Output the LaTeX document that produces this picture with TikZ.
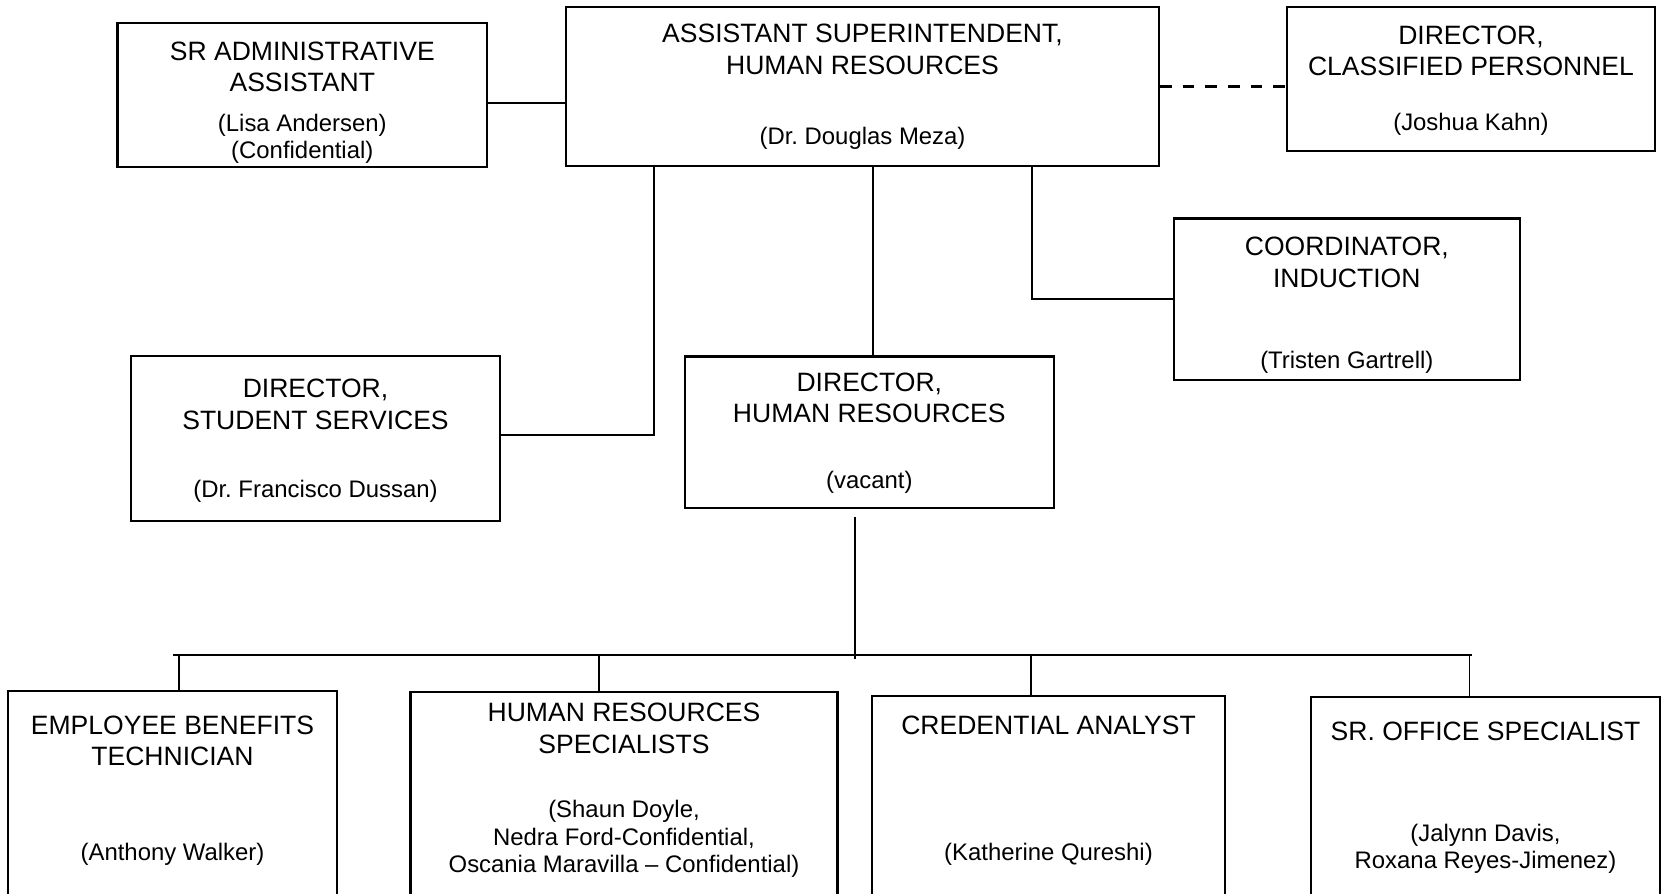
\documentclass[tikz,border=0pt]{standalone}
\usepackage{fontspec}
\setmainfont{Liberation Sans}
\usetikzlibrary{positioning}
\frenchspacing

\begin{document}
\begin{tikzpicture}[
            x=0.2mm, y=-0.2mm,
            box/.style={draw,rectangle,line width=1.2pt,inner sep=0pt},
            roletext/.style={align=center,inner sep=0pt,font=\fontsize{15.1pt}{18pt}\selectfont},
            persontext/.style={align=center,inner sep=0pt,font=\fontsize{13.6pt}{15.6pt}\selectfont},
            link/.style={line width=1pt}
        ]
        \useasboundingbox (0,0) rectangle (1662,893);
        \clip (0,0) rectangle (1662,893);
        % boxes
        \node[box, minimum width=73.9mm, minimum height=28.8mm] (sradmin) at (302.3,95) {};
        \node[box, minimum width=118.6mm, minimum height=31.8mm] (asst) at (862.5,86.5) {};
        \node[box, minimum width=73.6mm, minimum height=28.7mm] (classified) at (1471,79) {};
        \node[box, minimum width=69.1mm, minimum height=32.3mm] (coord) at (1346.8,299.2) {};
        \node[box, minimum width=73.8mm, minimum height=32.9mm] (student) at (315.5,438.3) {};
        \node[box, minimum width=73.7mm, minimum height=30.3mm] (dirhr) at (869.3,432.3) {};
        \node[box, minimum width=65.7mm, minimum height=44.8mm] (ebt) at (172.5,803) {};
        \node[box, minimum width=85.4mm, minimum height=44.7mm] (hrspec) at (624,803.3) {};
        \node[box, minimum width=70.6mm, minimum height=43.8mm] (cred) at (1048.5,805.5) {};
        \node[box, minimum width=69.8mm, minimum height=43.6mm] (sroffice) at (1485.5,806) {};
        % titles and names
        \node[roletext, below=3.88mm of sradmin.north] (sradmin-t) {SR ADMINISTRATIVE\\ASSISTANT};
        \node[persontext, below=18.3mm of sradmin.north] (sradmin-n) {(Lisa Andersen)\\(Confidential)};
        \node[roletext, below=3.54mm of asst.north] (asst-t) {ASSISTANT SUPERINTENDENT,\\HUMAN RESOURCES};
        \node[persontext, below=24.24mm of asst.north] (asst-n) {(Dr. Douglas Meza)};
        \node[roletext, below=3.82mm of classified.north] (classified-t) {DIRECTOR,\\CLASSIFIED PERSONNEL};
        \node[persontext, below=21.38mm of classified.north] (classified-n) {(Joshua Kahn)};
        \node[roletext, below=3.94mm of coord.north] (coord-t) {COORDINATOR,\\INDUCTION};
        \node[persontext, below=26.7mm of coord.north] (coord-n) {(Tristen Gartrell)};
        \node[roletext, below=4.8mm of student.north] (student-t) {DIRECTOR,\\STUDENT SERVICES};
        \node[persontext, below=25.04mm of student.north] (student-n) {(Dr. Francisco Dussan)};
        \node[roletext, below=3.38mm of dirhr.north] (dirhr-t) {DIRECTOR,\\HUMAN RESOURCES};
        \node[persontext, below=23mm of dirhr.north] (dirhr-n) {(vacant)};
        \node[roletext, below=5.1mm of ebt.north] (ebt-t) {EMPLOYEE BENEFITS\\TECHNICIAN};
        \node[persontext, below=30.56mm of ebt.north] (ebt-n) {(Anthony Walker)};
        \node[roletext, below=2.5mm of hrspec.north] (hrspec-t) {HUMAN RESOURCES\\SPECIALISTS};
        \node[persontext, below=21.9mm of hrspec.north] (hrspec-n) {(Shaun Doyle,\\Nedra Ford-Confidential,\\Oscania Maravilla -- Confidential)};
        \node[roletext, below=4.14mm of cred.north] (cred-t) {CREDENTIAL ANALYST};
        \node[persontext, below=29.64mm of cred.north] (cred-n) {(Katherine Qureshi)};
        \node[roletext, below=5.08mm of sroffice.north] (sroffice-t) {SR. OFFICE SPECIALIST};
        \node[persontext, below=25.5mm of sroffice.north] (sroffice-n) {(Jalynn Davis,\\Roxana Reyes-Jimenez)};
        % top level links
        \draw[link] ([yshift=-1.6mm]sradmin.east) -- ([yshift=-1.6mm]sradmin.east -| asst.west);
        \draw[link, line width=1.3pt, dash pattern=on 6.6pt off 6.3pt] (asst.east) -- (asst.east -| classified.west);
        \draw[link] ([xshift=0.7mm]dirhr.north |- asst.south) -- ([xshift=0.7mm]dirhr.north);
        \draw[link] ([yshift=0.7mm]student.east) -| ([xshift=17.75mm]asst.south west);
        \draw[link] (coord.west) -| ([xshift=-25.6mm]asst.south east);
        % bus to the staff boxes
        \coordinate (busL) at (173,655);
        \coordinate (busR) at (1472,655);
        \draw[link, line width=1.2pt] (busL) -- (busR);
        \draw[link] ([xshift=-2.85mm,yshift=-1.5mm]dirhr.south) -- ([xshift=-2.85mm,yshift=-0.8mm]dirhr.south |- busL);
        \foreach \b/\s in {ebt/1.3mm, hrspec/-5mm, cred/-3.5mm, sroffice/-3.2mm}
            \draw[link] ([xshift=\s]\b.north |- busL) -- ([xshift=\s]\b.north);
\end{tikzpicture}
\end{document}
